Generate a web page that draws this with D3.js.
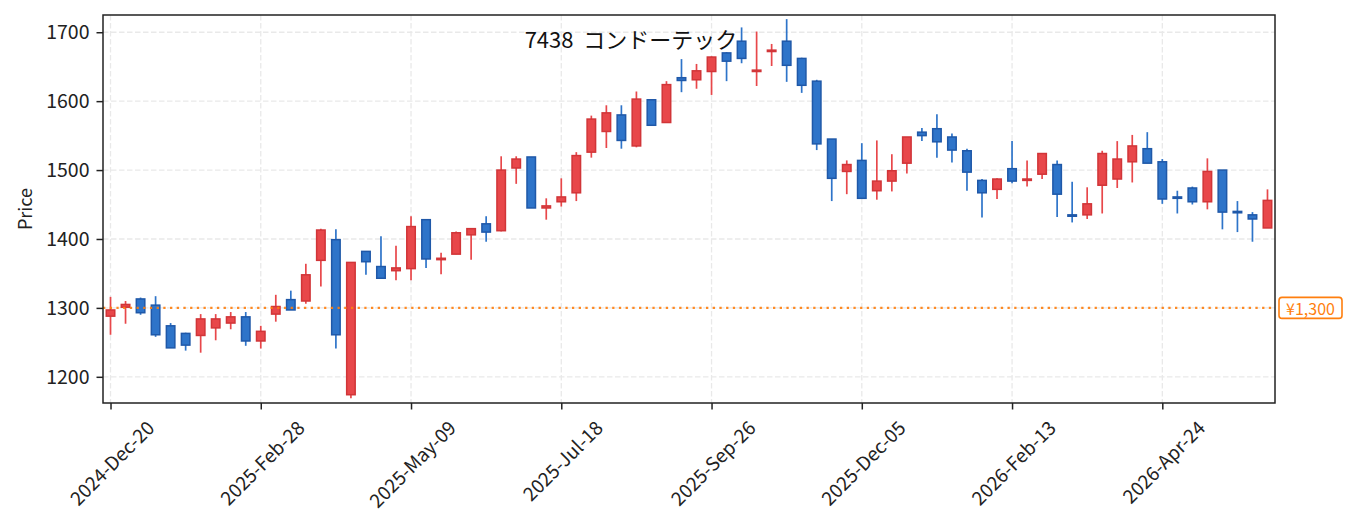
<!DOCTYPE html>
<html>
<head>
<meta charset="utf-8">
<script src="https://cdn.jsdelivr.net/npm/d3@7"></script>
<style>
  body { margin: 0; background: #fff; }
  #chart { width: 1353px; height: 531px; }
  text { font-family: "Noto Sans CJK JP", "Noto Sans", sans-serif; fill: #222; }
</style>
</head>
<body>
<div id="chart"></div>
<script>
// weekly candles, index 0 = 2024-Dec-20
const opens = [1288, 1301, 1313, 1304, 1274, 1263, 1260, 1271, 1278, 1287,
  1252, 1291, 1312, 1310, 1369, 1399, 1174, 1382, 1360, 1354,
  1357, 1428, 1370, 1378, 1406, 1422, 1412, 1503, 1519, 1445,
  1454, 1467, 1526, 1556, 1580, 1535, 1602, 1569, 1634, 1631,
  1643, 1670, 1687, 1643, 1672, 1687, 1662, 1629, 1545, 1498,
  1514, 1470, 1484, 1510, 1555, 1560, 1548, 1528, 1485, 1472,
  1502, 1485, 1494, 1508, 1435, 1435, 1478, 1487, 1512, 1531,
  1512, 1461, 1474, 1454, 1500, 1440, 1435, 1416];
const highs = [1316, 1310, 1315, 1317, 1278, 1264, 1291, 1291, 1294, 1294,
  1274, 1319, 1325, 1364, 1415, 1414, 1366, 1382, 1404, 1390,
  1433, 1428, 1380, 1411, 1416, 1433, 1520, 1520, 1519, 1459,
  1488, 1526, 1579, 1594, 1594, 1614, 1602, 1629, 1661, 1654,
  1665, 1671, 1707, 1701, 1683, 1719, 1663, 1631, 1545, 1514,
  1539, 1543, 1523, 1548, 1561, 1581, 1553, 1531, 1487, 1488,
  1542, 1514, 1524, 1514, 1483, 1475, 1528, 1542, 1551, 1555,
  1516, 1470, 1476, 1517, 1500, 1455, 1439, 1472];
const lows = [1261, 1277, 1290, 1258, 1242, 1238, 1235, 1253, 1269, 1245,
  1241, 1280, 1297, 1306, 1331, 1241, 1169, 1348, 1343, 1340,
  1340, 1358, 1349, 1378, 1370, 1396, 1411, 1480, 1445, 1428,
  1447, 1455, 1518, 1532, 1531, 1533, 1565, 1569, 1613, 1618,
  1609, 1629, 1655, 1622, 1651, 1628, 1612, 1529, 1455, 1465,
  1459, 1457, 1469, 1495, 1542, 1518, 1511, 1470, 1431, 1458,
  1481, 1476, 1487, 1432, 1424, 1429, 1437, 1474, 1482, 1510,
  1451, 1437, 1450, 1443, 1414, 1410, 1396, 1416];
const closes = [1297, 1305, 1293, 1261, 1242, 1246, 1284, 1284, 1287, 1252,
  1266, 1302, 1297, 1348, 1413, 1261, 1366, 1367, 1343, 1358,
  1418, 1371, 1372, 1409, 1415, 1410, 1500, 1516, 1445, 1448,
  1461, 1521, 1574, 1583, 1543, 1603, 1565, 1624, 1630, 1644,
  1664, 1658, 1662, 1645, 1674, 1652, 1623, 1538, 1488, 1508,
  1459, 1484, 1499, 1548, 1550, 1541, 1529, 1497, 1467, 1487,
  1484, 1487, 1524, 1465, 1433, 1451, 1524, 1516, 1535, 1510,
  1458, 1459, 1454, 1498, 1439, 1438, 1429, 1456];

const tickIndex = [0, 10, 20, 30, 40, 50, 60, 70];
const tickLabels = ["2024-Dec-20", "2025-Feb-28", "2025-May-09", "2025-Jul-18",
  "2025-Sep-26", "2025-Dec-05", "2026-Feb-13", "2026-Apr-24"];
const priceTicks = [1200, 1300, 1400, 1500, 1600, 1700];
const refPrice = 1300;
const refLabel = "¥1,300";
const title = "7438\u00a0\u00a0コンドーテック";

class CandleVis {
  constructor(parentElement) {
    this.parentElement = parentElement;
    this.colors = {
      up: "#e8474a", upEdge: "#d13538",
      down: "#2e74c9", downEdge: "#1f58a8",
      ref: "#ff7f0e"
    };
    this.data = opens.map((o, i) => ({
      i: i, open: o, high: highs[i], low: lows[i], close: closes[i]
    }));
    this.initVis();
  }

  initVis() {
    let vis = this;

    vis.margin = { top: 15, right: 78, bottom: 128, left: 103 };
    vis.width = 1353 - vis.margin.left - vis.margin.right;
    vis.height = 531 - vis.margin.top - vis.margin.bottom;

    vis.svg = d3.select("#" + vis.parentElement)
      .append("svg")
      .attr("width", 1353)
      .attr("height", 531);

    vis.g = vis.svg.append("g")
      .attr("transform", `translate(${vis.margin.left}, ${vis.margin.top})`);

    vis.x = d3.scaleLinear().domain([-0.5, opens.length - 0.5]).range([0, vis.width]);
    vis.y = d3.scaleLinear().domain([1162, 1725]).range([vis.height, 0]);

    // grid
    vis.g.append("g")
      .selectAll("line")
      .data(priceTicks)
      .join("line")
      .attr("x1", 0).attr("x2", vis.width)
      .attr("y1", d => vis.y(d)).attr("y2", d => vis.y(d))
      .attr("stroke", "#e9e9e9").attr("stroke-width", 1.3)
      .attr("stroke-dasharray", "5.5,2.5");

    vis.g.append("g")
      .selectAll("line")
      .data(tickIndex)
      .join("line")
      .attr("x1", d => vis.x(d)).attr("x2", d => vis.x(d))
      .attr("y1", 0).attr("y2", vis.height)
      .attr("stroke", "#e9e9e9").attr("stroke-width", 1.3)
      .attr("stroke-dasharray", "5.5,2.5");

    // y axis
    let yAxis = vis.g.append("g")
      .call(d3.axisLeft(vis.y).tickValues(priceTicks).tickFormat(d3.format("d"))
        .tickSize(6.5).tickPadding(7));
    yAxis.select(".domain").remove();
    yAxis.selectAll("line").attr("stroke", "#222").attr("stroke-width", 1.5);
    yAxis.selectAll("text").style("font-size", "19.5px").attr("fill", "#222");

    // x axis
    let xAxis = vis.g.append("g")
      .attr("transform", `translate(0, ${vis.height})`)
      .call(d3.axisBottom(vis.x).tickValues(tickIndex).tickSize(6.5).tickFormat(""));
    xAxis.select(".domain").remove();
    xAxis.selectAll("line").attr("stroke", "#222").attr("stroke-width", 1.5);

    let fs = 19;
    xAxis.selectAll(".tick")
      .append("text")
      .text((d, k) => tickLabels[k])
      .style("font-size", fs + "px")
      .attr("fill", "#222")
      .attr("text-anchor", "middle")
      .attr("dominant-baseline", "central")
      .each(function () {
        let len = this.getComputedTextLength();
        let cy = 15 + (len + fs * 0.8) * 0.7071 / 2;
        d3.select(this).attr("transform", `translate(0, ${cy}) rotate(-45)`);
      });

    // y label
    vis.svg.append("text")
      .attr("transform", `translate(24, ${vis.margin.top + vis.height / 2}) rotate(-90)`)
      .attr("text-anchor", "middle")
      .attr("dominant-baseline", "central")
      .style("font-size", "18px")
      .text("Price");

    vis.updateVis();
  }

  updateVis() {
    let vis = this;
    let bw = 8.5;

    vis.candles = vis.g.append("g")
      .selectAll(".candle")
      .data(vis.data)
      .join("g")
      .attr("class", "candle");

    vis.candles.append("line")
      .attr("x1", d => vis.x(d.i)).attr("x2", d => vis.x(d.i))
      .attr("y1", d => vis.y(d.high)).attr("y2", d => vis.y(d.low))
      .attr("stroke", d => d.close >= d.open ? vis.colors.up : vis.colors.down)
      .attr("stroke-width", 1.7);

    vis.candles.append("rect")
      .attr("x", d => vis.x(d.i) - bw / 2)
      .attr("width", bw)
      .attr("y", d => vis.y(Math.max(d.open, d.close)))
      .attr("height", d => Math.max(1, vis.y(Math.min(d.open, d.close)) - vis.y(Math.max(d.open, d.close))))
      .attr("fill", d => d.close >= d.open ? vis.colors.up : vis.colors.down)
      .attr("stroke", d => d.close >= d.open ? vis.colors.upEdge : vis.colors.downEdge)
      .attr("stroke-width", 1.5);

    // reference line
    vis.g.append("line")
      .attr("x1", 0).attr("x2", vis.width)
      .attr("y1", vis.y(refPrice)).attr("y2", vis.y(refPrice))
      .attr("stroke", vis.colors.ref).attr("stroke-width", 2.3)
      .attr("stroke-dasharray", "2.3,4.4")
      .attr("opacity", 0.9);

    // frame
    vis.g.append("rect")
      .attr("width", vis.width).attr("height", vis.height)
      .attr("fill", "none").attr("stroke", "#222").attr("stroke-width", 1.5);

    // reference label
    let lab = vis.g.append("g")
      .attr("transform", `translate(${vis.width + 4}, ${vis.y(refPrice)})`);
    lab.append("rect")
      .attr("x", 0).attr("y", -10.5)
      .attr("width", 63).attr("height", 21)
      .attr("rx", 3)
      .attr("fill", "#fff")
      .attr("stroke", vis.colors.ref).attr("stroke-width", 1.6);
    lab.append("text")
      .attr("x", 31.5).attr("y", 0.5)
      .attr("text-anchor", "middle")
      .attr("dominant-baseline", "central")
      .style("font-size", "16px")
      .style("fill", vis.colors.ref)
      .text(refLabel);

    // title
    vis.svg.append("text")
      .attr("x", 631).attr("y", 48)
      .attr("text-anchor", "middle")
      .style("font-size", "22px")
      .style("fill", "#111")
      .text(title);
  }
}

new CandleVis("chart");
</script>
</body>
</html>
